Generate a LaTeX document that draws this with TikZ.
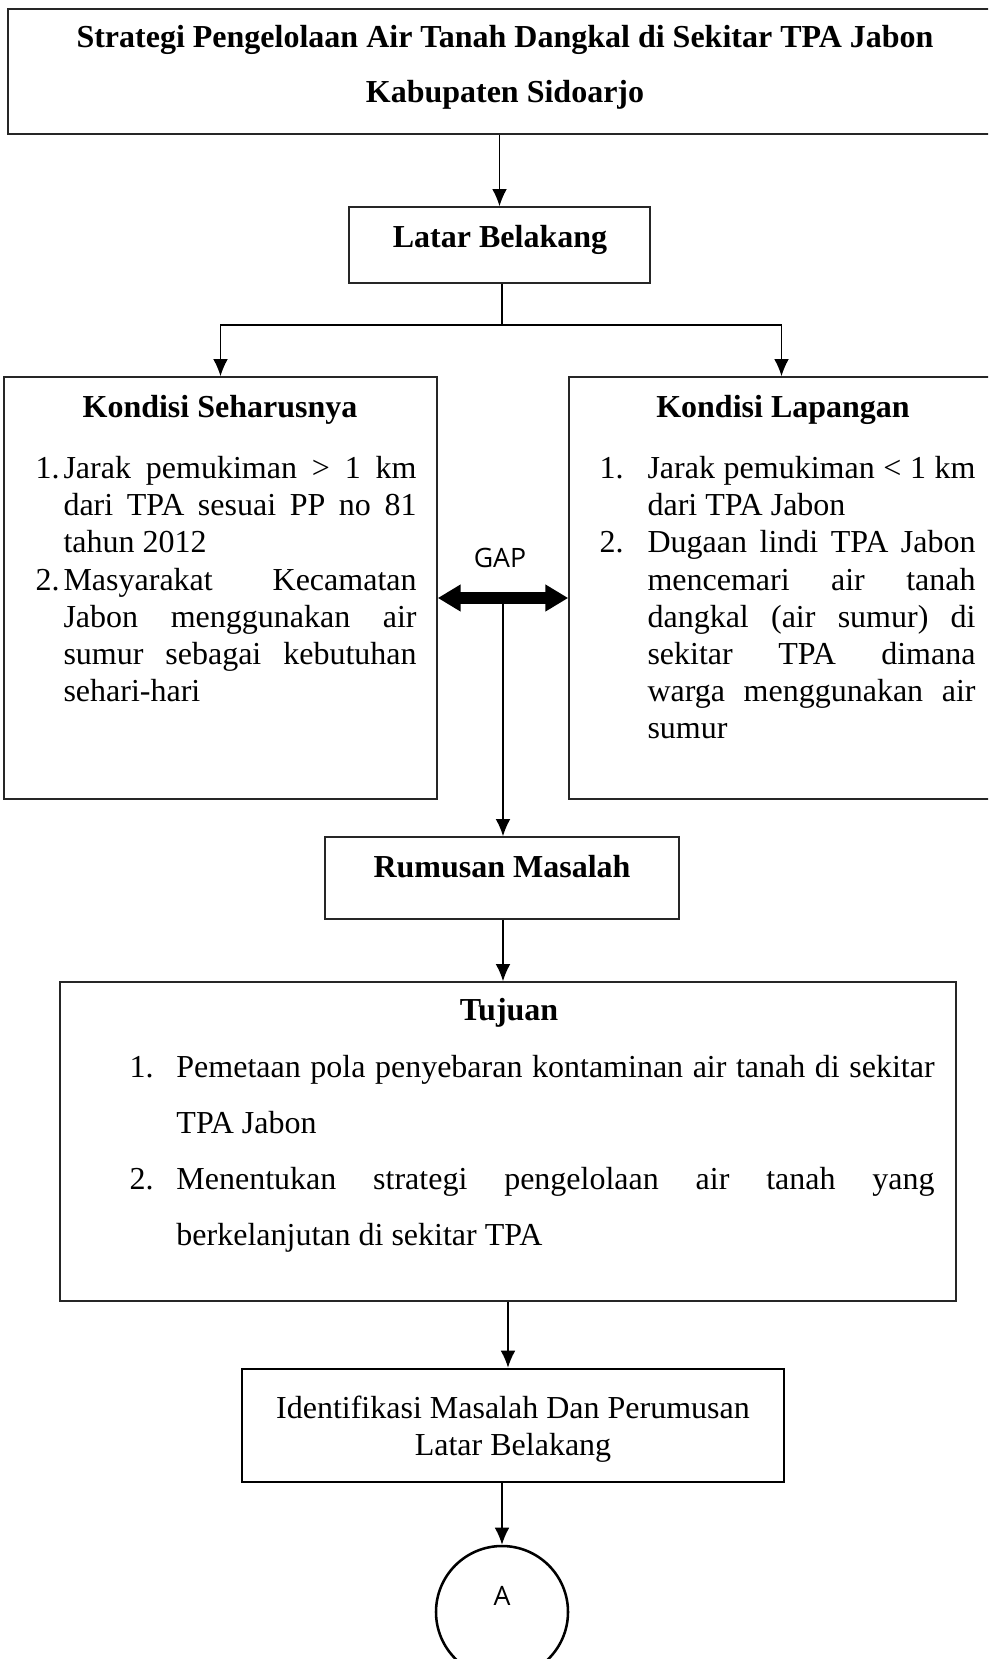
\documentclass[tikz,border=0pt]{standalone}
\usepackage{fontspec}
\setmainfont{Liberation Serif}
\newfontfamily\labelfont{Open Sans}
\usetikzlibrary{arrows.meta,fit}

% one numbered entry with a hanging indent (entries are separated by \par)
\newcommand\listentry[2]{\noindent\hangindent=#1\hangafter=1\makebox[#1][l]{#2}\rule{0pt}{10pt}\ignorespaces}

\begin{document}
\begin{tikzpicture}[x=0.375pt,y=-0.375pt,
  box/.style={draw=black!85,line width=0.6pt,inner sep=0pt},
  heavybox/.style={draw=black,line width=0.95pt,inner sep=0pt},
  heading/.style={anchor=base,inner sep=0pt,font=\fontsize{12}{14}\selectfont\bfseries},
  plain/.style={anchor=base,inner sep=0pt,font=\fontsize{12}{14}\selectfont},
  itemlist/.style={anchor=north west,inner sep=0pt,align=justify,
    execute at begin node={\parskip=0pt\tolerance=10000\hbadness=10000\hyphenpenalty=10000\exhyphenpenalty=10000}},
  line/.style={line width=0.5pt},
  conn/.style={line width=0.5pt,-{Latex[length=6.4pt,width=5.5pt]}},
  gaparrow/.style={line width=4.2pt,{Triangle[length=8.6pt,width=9.6pt]}-{Triangle[length=8.6pt,width=9.6pt]}},
  tag/.style={anchor=base,inner sep=0pt,font=\labelfont\fontsize{10}{12}\selectfont}]
\useasboundingbox (0,0) rectangle (988,1659);
\clip (0,0) rectangle (988,1659);

% corner points of the boxes
\coordinate (t1) at (8,9);     \coordinate (t2) at (1003,134);
\coordinate (lb1) at (349,207); \coordinate (lb2) at (650,283);
\coordinate (ks1) at (4,377);   \coordinate (ks2) at (437,799);
\coordinate (kl1) at (569,377); \coordinate (kl2) at (994,799);
\coordinate (rm1) at (325,837); \coordinate (rm2) at (679,919);
\coordinate (tj1) at (60,982);  \coordinate (tj2) at (956,1301);
\coordinate (id1) at (242,1369); \coordinate (id2) at (784,1482);

\node[box,fit=(t1)(t2)] (judul) {};
\node[box,fit=(lb1)(lb2)] (lb) {};
\node[box,fit=(ks1)(ks2)] (ks) {};
\node[box,fit=(kl1)(kl2)] (kl) {};
\node[box,fit=(rm1)(rm2)] (rm) {};
\node[box,fit=(tj1)(tj2)] (tj) {};
\node[heavybox,fit=(id1)(id2)] (id) {};
\node[heavybox,circle,minimum size=49.5pt] (conA) at (502,1612) {};

% titles
\node[heading] (judul1) at (505,48) {Strategi Pengelolaan Air Tanah Dangkal di Sekitar TPA Jabon};
\node[heading] (judul2) at (505,103) {Kabupaten Sidoarjo};
\node[heading] (lbtext) at (500,247) {Latar Belakang};
\node[heading] (kstext) at (220,417) {Kondisi Seharusnya};
\node[heading] (kltext) at (783,417) {Kondisi Lapangan};
\node[heading] (rmtext) at (502,877) {Rumusan Masalah};
\node[heading] (tjtext) at (509,1020) {Tujuan};
\node[plain] (id1text) at (513,1418) {Identifikasi Masalah Dan Perumusan};
\node[plain] (id2text) at (513,1455) {Latar Belakang};
\node[tag] (gap) at (500,567) {GAP};
\node[tag] (atext) at (502,1605) {A};

% lists
\node[itemlist,text width=142.9pt,font=\fontsize{12}{13.94}\selectfont] (kslist) at (35,451.3) {%
\listentry{10.5pt}{1.}Jarak pemukiman > 1 km\linebreak dari TPA sesuai PP no 81\linebreak tahun 2012\par
\listentry{10.5pt}{2.}Masyarakat Kecamatan\linebreak Jabon menggunakan air\linebreak sumur sebagai kebutuhan\linebreak sehari-hari\par};

\node[itemlist,text width=141pt,font=\fontsize{12}{13.94}\selectfont] (kllist) at (599,451.3) {%
\listentry{18pt}{1.}Jarak pemukiman < 1 km\linebreak dari TPA Jabon\par
\listentry{18pt}{2.}Dugaan lindi TPA Jabon\linebreak mencemari air tanah\linebreak dangkal (air sumur) di\linebreak sekitar TPA dimana\linebreak warga menggunakan air\linebreak sumur\par};

\node[itemlist,text width=301.9pt,font=\fontsize{12}{21.02}\selectfont] (tjlist) at (129,1050.3) {%
\listentry{17.6pt}{1.}Pemetaan pola penyebaran kontaminan air tanah di sekitar\linebreak TPA Jabon\par
\listentry{17.6pt}{2.}Menentukan strategi pengelolaan air tanah yang\linebreak berkelanjutan di sekitar TPA\par};

% connectors
\coordinate (fork) at (502,325);
\coordinate (gapmid) at (503,598);
\draw[conn] (judul.south -| lb.north) -- (lb.north);
\draw[line] (lb.south -| fork) -- (fork);
\draw[conn] (fork) -| (ks.north);
\draw[conn] (fork) -| (kl.north);
\draw[gaparrow] (ks.east |- gapmid) -- (kl.west |- gapmid);
\draw[conn] (gapmid) -- (gapmid |- rm.north);
\draw[conn] (rm.south -| gapmid) -- (gapmid |- tj.north);
\draw[conn] (tj.south) -- (tj.south |- id.north);
\draw[conn] (conA.north |- id.south) -- (conA.north);
\end{tikzpicture}
\end{document}
